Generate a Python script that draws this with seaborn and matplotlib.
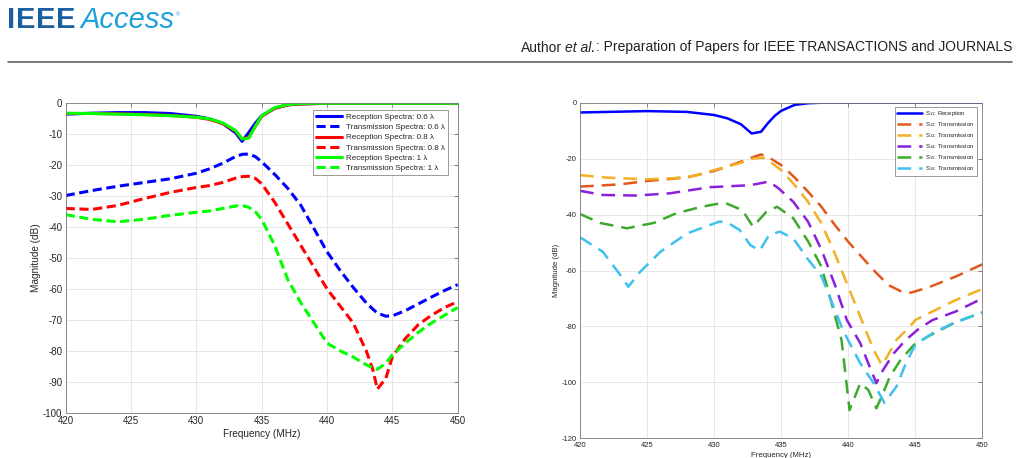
import matplotlib
matplotlib.use("Agg")
import matplotlib.pyplot as plt
import seaborn as sns

# ---- left panel data (dB vs MHz) ----
freq_l = [420, 422, 424, 426, 428, 430, 431, 432, 433, 433.5, 434, 434.5, 435, 436, 437,
          438, 439, 440, 441, 442, 443, 443.5, 443.85, 444.5, 445, 446, 447, 448, 449, 450]

rx_06 = [-3.5, -3.2, -3.0, -3.0, -3.3, -4.2, -5.0, -6.5, -9.5, -12.3, -9.5, -6.5, -4.0, -1.6, -0.5,
         -0.2, -0.1, 0, 0, 0, 0, 0, 0, 0, 0, 0, 0, 0, 0, 0]
rx_08 = [-3.3, -3.3, -3.4, -3.6, -3.9, -4.5, -5.2, -6.5, -9.0, -11.5, -11.0, -7.5, -4.2, -1.6, -0.5,
         -0.2, -0.1, 0, 0, 0, 0, 0, 0, 0, 0, 0, 0, 0, 0, 0]
rx_10 = [-3.2, -3.3, -3.5, -3.7, -4.0, -4.5, -5.0, -6.3, -8.8, -11.5, -11.3, -7.5, -4.0, -1.4, -0.4,
         -0.1, 0, 0, 0, 0, 0, 0, 0, 0, 0, 0, 0, 0, 0, 0]
tx_06 = [-29.8, -28.2, -26.8, -25.6, -24.4, -22.6, -21.2, -19.4, -17.2, -16.5, -16.4, -17.2, -18.9, -23.0, -27.5,
         -33.0, -40.5, -48.0, -54.0, -59.5, -64.5, -66.5, -67.8, -68.8, -68.7, -67.0, -64.8, -62.6, -60.5, -58.6]
tx_08 = [-34.0, -34.3, -33.0, -30.8, -28.8, -27.2, -26.6, -25.6, -24.2, -23.7, -23.6, -24.2, -26.0, -32.0, -39.0,
         -46.0, -53.0, -60.0, -65.5, -71.0, -80.0, -86.0, -92.4, -88.9, -81.9, -76.0, -71.5, -68.5, -66.0, -64.1]
tx_10 = [-36.0, -37.5, -38.3, -37.5, -36.2, -35.2, -34.8, -34.0, -33.2, -33.0, -33.6, -35.0, -37.5, -46.0, -57.0,
         -64.5, -71.0, -77.5, -80.0, -82.0, -84.5, -85.5, -86.0, -84.0, -81.3, -77.5, -74.0, -71.0, -68.5, -66.0]

# ---- right panel data ----
f_s11 = [420, 425, 428, 430, 431, 432, 432.8, 433.5, 434, 434.5, 435, 436, 437, 438, 450]
s11 = [-3.5, -3.0, -3.3, -4.4, -5.6, -7.7, -11.0, -10.4, -7.4, -4.8, -2.9, -0.8, -0.2, 0, 0]

f_s12 = [420, 423, 425, 428, 430, 432, 433, 433.5, 434, 435, 436, 437, 438, 439, 440, 441, 442, 443,
         444, 444.7, 446, 448, 450]
s12 = [-30.0, -29.2, -28.0, -26.7, -24.4, -21.1, -19.3, -18.5, -19.3, -22.3, -26.7, -31.8, -37.2, -43.7,
       -49.7, -55.1, -60.4, -65.2, -67.6, -67.9, -66.0, -62.2, -57.8]

f_s13 = [420, 422, 425, 427, 428.5, 430, 432, 433, 433.7, 434.5, 435, 436, 437, 438, 439, 440, 441,
         441.9, 442.5, 442.9, 443.6, 444.6, 445, 448, 450]
s13 = [-25.9, -26.8, -27.4, -27.0, -26.2, -24.1, -21.5, -19.9, -19.7, -22.3, -24.1, -29.4, -35.4, -43.1,
       -53.9, -65.8, -77.7, -88.4, -93.8, -90.8, -84.8, -80.1, -77.7, -70.6, -66.6]

f_s14 = [420, 421.7, 424.2, 426.7, 429.7, 432.7, 434.1, 434.8, 435.9, 437, 438, 439, 439.9, 440.9,
         441.6, 442.1, 442.6, 443.4, 444.3, 445.3, 446.3, 448, 450]
s14 = [-31.5, -33.0, -33.2, -32.4, -30.2, -29.5, -28.2, -30.6, -35.4, -42.5, -52.5, -65.0, -77.7, -86.0,
       -94.4, -100.3, -95.6, -89.6, -84.8, -80.7, -77.7, -74.7, -70.0]

f_s15 = [420, 421.5, 423.5, 425.5, 427.2, 429, 430.2, 430.9, 432.1, 432.9, 433.9, 434.7, 435.9, 437,
         438, 438.5, 439.1, 439.5, 439.9, 440.1, 440.4, 440.9, 441.5, 442.1, 442.6, 443.1, 443.9,
         444.9, 445.9, 448, 450]
s15 = [-39.8, -43.0, -44.9, -43.0, -39.5, -37.3, -36.2, -36.0, -38.4, -44.3, -39.0, -37.2, -41.3, -49.5,
       -58.6, -67.0, -77.7, -84.8, -101.5, -109.9, -106.3, -100.3, -102.7, -109.3, -103.9, -98.0, -92.0,
       -86.6, -83.7, -78.5, -75.0]

f_s16 = [420, 421.7, 423, 423.6, 424.5, 426, 428, 430.4, 431, 431.9, 432.7, 433.4, 434.1, 434.9, 435.9,
         437, 438, 439, 439.6, 440.9, 441.9, 442.7, 443.6, 444.3, 445, 446.3, 447.8, 450]
s16 = [-48.1, -53.3, -61.6, -65.8, -60.4, -53.3, -46.7, -42.5, -42.9, -45.5, -50.9, -52.9, -47.3, -46.1,
       -48.5, -56.0, -62.0, -74.0, -81.3, -93.2, -100.3, -107.3, -101.5, -93.2, -86.6, -82.4, -78.9, -75.0]

sns.set_theme(style="white")
plt.rcParams["font.family"] = ["Liberation Sans", "DejaVu Sans"]
plt.rcParams["mathtext.fontset"] = "custom"
plt.rcParams["mathtext.rm"] = "Liberation Sans"
plt.rcParams["mathtext.it"] = "Liberation Sans:italic"
plt.rcParams["axes.unicode_minus"] = False

W, H = 1019, 458
fig = plt.figure(figsize=(W / 100, H / 100), dpi=100)
fig.patch.set_facecolor("white")
rend = fig.canvas.get_renderer()

# header like the journal page
for ch, xp in zip("IEEE", [7, 16, 36, 56]):
    fig.text(xp / W, 1 - 28 / H, ch, fontsize=21, fontweight="bold", color="#1b5f9e")
fig.text(80 / W, 1 - 28 / H, "Access", fontsize=21, style="italic", color="#1da1dc")
fig.text(176 / W, 1 - 16 / H, "\u00ae", fontsize=4, color="#1da1dc")

yb = 1 - 51.5 / H
t3 = fig.text(1012 / W, yb, ": Preparation of Papers for IEEE TRANSACTIONS and JOURNALS",
              fontsize=10, ha="right", va="baseline", color="#222222")
x3 = t3.get_window_extent(rend).x0
t2 = fig.text(x3 / W, yb, "et al.", fontsize=10, style="italic", ha="right", va="baseline", color="#222222")
x2 = t2.get_window_extent(rend).x0
fig.text((x2 - 3) / W, yb, "Author", fontsize=10, ha="right", va="baseline", color="#222222")
fig.add_artist(plt.Line2D([8 / W, 1012 / W], [1 - 61.5 / H, 1 - 61.5 / H], color="#555555", lw=1.1))


def style_axes(ax, tick_fs):
    ax.grid(True, color="#e3e3e3", lw=0.6)
    ax.set_axisbelow(True)
    for sp in ax.spines.values():
        sp.set_color("#7a7a7a")
        sp.set_linewidth(0.6)
    ax.tick_params(direction="in", top=True, right=True, length=3, width=0.5, color="#555555",
                   labelsize=tick_fs, labelcolor="#262626", pad=2.5)


# ---- left panel ----
ax1 = fig.add_axes([65.7 / W, 1 - 412.7 / H, 392 / W, 309.4 / H])
dl = (0, (3, 1.5))
lw1 = 2.2
sns.lineplot(x=freq_l, y=rx_06, ax=ax1, color="#0000ff", lw=lw1, errorbar=None, label="Reception Spectra: 0.6 \u03bb")
sns.lineplot(x=freq_l, y=tx_06, ax=ax1, color="#0000ff", lw=lw1, linestyle=dl, errorbar=None, label="Transmission Spectra: 0.6 \u03bb")
sns.lineplot(x=freq_l, y=rx_08, ax=ax1, color="#ff0000", lw=lw1, errorbar=None, label="Reception Spectra: 0.8 \u03bb")
sns.lineplot(x=freq_l, y=tx_08, ax=ax1, color="#ff0000", lw=lw1, linestyle=dl, errorbar=None, label="Transmission Spectra: 0.8 \u03bb")
sns.lineplot(x=freq_l, y=rx_10, ax=ax1, color="#00ff00", lw=lw1, errorbar=None, label="Reception Spectra: 1 \u03bb")
sns.lineplot(x=freq_l, y=tx_10, ax=ax1, color="#00ff00", lw=lw1, linestyle=dl, errorbar=None, label="Transmission Spectra: 1 \u03bb")
ax1.set_xlim(420, 450)
ax1.set_ylim(-100, 0)
ax1.set_xticks(range(420, 451, 5))
ax1.set_yticks(range(-100, 1, 10))
style_axes(ax1, 7)
ax1.set_xlabel("Frequency (MHz)", fontsize=7.2, labelpad=2)
ax1.set_ylabel("Magnitude (dB)", fontsize=7.2, labelpad=1.5)
ax1.legend(loc="upper right", bbox_to_anchor=(0.975, 0.978), borderaxespad=0, fontsize=5.8,
           handlelength=3.2, labelspacing=0.32, fancybox=False, framealpha=1, edgecolor="#8a8a8a",
           borderpad=0.4, handletextpad=0.5).get_frame().set_linewidth(0.6)

# ---- right panel ----
ax2 = fig.add_axes([580 / W, 1 - 438.3 / H, 402.3 / W, 335.6 / H])
dr = (0, (5.5, 3.2))
lw2 = 1.8
sns.lineplot(x=f_s11, y=s11, ax=ax2, color="#0000ff", lw=lw2, errorbar=None, label=r"S$_{11}$: Reception")
sns.lineplot(x=f_s12, y=s12, ax=ax2, color="#e2571c", lw=lw2, linestyle=dr, errorbar=None, label=r"S$_{12}$: Transmission")
sns.lineplot(x=f_s13, y=s13, ax=ax2, color="#f2b022", lw=lw2, linestyle=dr, errorbar=None, label=r"S$_{13}$: Transmission")
sns.lineplot(x=f_s14, y=s14, ax=ax2, color="#8a1fdc", lw=lw2, linestyle=dr, errorbar=None, label=r"S$_{14}$: Transmission")
sns.lineplot(x=f_s15, y=s15, ax=ax2, color="#3da92d", lw=lw2, linestyle=dr, errorbar=None, label=r"S$_{15}$: Transmission")
sns.lineplot(x=f_s16, y=s16, ax=ax2, color="#3ec0f0", lw=lw2, linestyle=dr, errorbar=None, label=r"S$_{16}$: Transmission")
ax2.set_xlim(420, 450)
ax2.set_ylim(-120, 0)
ax2.set_xticks(range(420, 451, 5))
ax2.set_yticks(range(-120, 1, 20))
style_axes(ax2, 5.5)
ax2.set_xlabel("Frequency (MHz)", fontsize=5.6, labelpad=2)
ax2.set_ylabel("Magnitude (dB)", fontsize=5.6, labelpad=1)
ax2.legend(loc="upper right", bbox_to_anchor=(0.987, 0.987), borderaxespad=0, fontsize=4.3,
           handlelength=4.2, labelspacing=0.35, fancybox=False, framealpha=1, edgecolor="#8a8a8a",
           borderpad=0.4, handletextpad=0.5).get_frame().set_linewidth(0.6)

fig.savefig("out.png", dpi=100)
